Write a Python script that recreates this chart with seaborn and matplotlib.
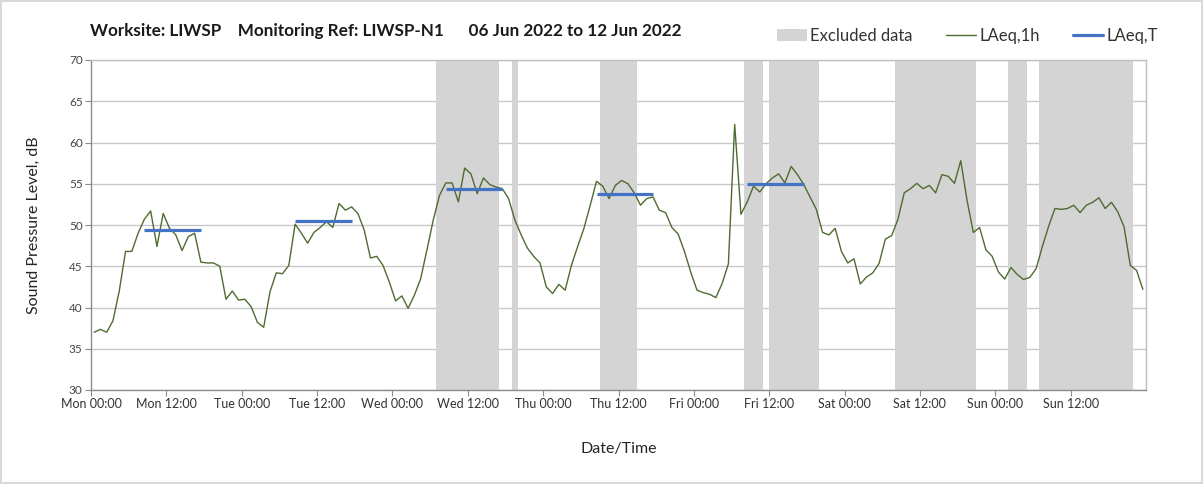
import pandas as pd
import matplotlib.pyplot as plt
import matplotlib.dates as mdates
from matplotlib.patches import Patch
from matplotlib.lines import Line2D
import seaborn as sns

# hourly LAeq,1h values, one list per day (00:00 .. 23:00)
mon = [37.0, 37.35, 37.0, 38.4, 42.0, 46.8, 46.8, 49.0, 50.7, 51.7, 47.4, 51.4,
       49.6, 48.8, 46.9, 48.6, 49.0, 45.5, 45.4, 45.4, 45.0, 41.0, 42.0, 40.9]
tue = [41.0, 40.1, 38.2, 37.6, 41.9, 44.2, 44.1, 45.1, 50.1, 49.0, 47.8, 49.1,
       49.7, 50.4, 49.7, 52.6, 51.8, 52.2, 51.4, 49.4, 46.0, 46.2, 45.1, 43.1]
wed = [40.8, 41.4, 39.9, 41.5, 43.5, 47.0, 50.6, 53.6, 55.1, 55.1, 52.8, 56.9,
       56.2, 53.8, 55.7, 54.9, 54.6, 54.4, 53.2, 50.6, 48.8, 47.2, 46.2, 45.4]
thu = [42.5, 41.7, 42.8, 42.1, 45.1, 47.4, 49.6, 52.4, 55.3, 54.7, 53.2, 54.8,
       55.4, 55.0, 53.9, 52.4, 53.2, 53.4, 51.8, 51.5, 49.7, 48.9, 46.8, 44.3]
fri = [42.1, 41.8, 41.6, 41.2, 42.9, 45.3, 62.2, 51.3, 52.8, 54.7, 54.0, 55.0,
       55.7, 56.2, 55.1, 57.1, 56.1, 54.9, 53.4, 51.9, 49.1, 48.8, 49.6, 46.8]
sat = [45.4, 45.9, 42.85, 43.7, 44.2, 45.35, 48.3, 48.7, 50.7, 53.9, 54.4, 55.05,
       54.4, 54.8, 53.9, 56.1, 55.9, 55.05, 57.8, 53.0, 49.1, 49.7, 47.0, 46.2]
sun = [44.3, 43.45, 44.85, 44.0, 43.4, 43.65, 44.7, 47.4, 49.85, 52.0, 51.9, 52.0,
       52.4, 51.5, 52.4, 52.75, 53.3, 52.0, 52.75, 51.6, 49.8, 45.1, 44.5, 42.2]

# LAeq,T over the 08:00-18:00 period (weekdays only)
laeq_t_days = ['2022-06-06', '2022-06-07', '2022-06-08', '2022-06-09', '2022-06-10']
laeq_t_vals = [49.4, 50.5, 54.4, 53.7, 55.0]

# excluded periods
excl_start = ['2022-06-08 07:00', '2022-06-08 19:00', '2022-06-09 09:00', '2022-06-10 08:00',
              '2022-06-10 12:00', '2022-06-11 08:00', '2022-06-12 02:00', '2022-06-12 07:00']
excl_end = ['2022-06-08 17:00', '2022-06-08 20:00', '2022-06-09 15:00', '2022-06-10 11:00',
            '2022-06-10 20:00', '2022-06-11 21:00', '2022-06-12 05:00', '2022-06-12 22:00']

values = mon + tue + wed + thu + fri + sat + sun
times = pd.date_range('2022-06-06 00:30', periods=len(values), freq='h')
df = pd.DataFrame({'time': times, 'LAeq': values})

green = '#4f6b30'
blue = '#4472c4'
shade = '#d4d4d4'

sns.set_style('white')
plt.rcParams['font.family'] = ['Lato', 'DejaVu Sans']

fig = plt.figure(figsize=(12.03, 4.84), dpi=100)
fig.patch.set_edgecolor('#d9d9d9')
fig.patch.set_linewidth(1.5)
ax = fig.add_axes([91/1203, 1-390/484, 1055/1203, 330/484])

for s, e in zip(excl_start, excl_end):
    ax.axvspan(pd.Timestamp(s), pd.Timestamp(e), color=shade, lw=0, zorder=1)

sns.lineplot(data=df, x='time', y='LAeq', ax=ax, color=green, lw=1.0, zorder=3)

for d, v in zip(laeq_t_days, laeq_t_vals):
    day = pd.Timestamp(d)
    ax.hlines(v, day + pd.Timedelta(hours=8.5), day + pd.Timedelta(hours=17.5),
              color=blue, lw=2.3, zorder=4)

ax.set_xlim(pd.Timestamp('2022-06-06'), pd.Timestamp('2022-06-13'))
ax.set_ylim(30, 70)
ax.set_yticks(range(30, 71, 5))
ax.xaxis.set_major_locator(mdates.HourLocator(byhour=[0, 12]))
ax.xaxis.set_major_formatter(mdates.DateFormatter('%a %H:%M'))
ax.xaxis.set_minor_locator(mdates.DayLocator())
ax.set_xticks([t for t in ax.get_xticks() if t < mdates.date2num(pd.Timestamp('2022-06-12 23:00'))])

ax.grid(False)
ax.grid(axis='y', color='#c8c8c8', lw=1.0, zorder=0)
ax.grid(axis='x', which='minor', color='#e3e3e3', lw=1.0, zorder=0)
ax.tick_params(axis='x', which='minor', length=0)
ax.tick_params(axis='x', which='major', labelsize=9, labelcolor='#333333')
ax.tick_params(axis='y', which='major', labelsize=8.5, labelcolor='#444444')
ax.tick_params(axis='both', which='major', length=4, width=0.8, color='#8c8c8c',
               pad=2, bottom=True, left=True)
for side in ['top', 'right']:
    ax.spines[side].set_color('#bfbfbf')
for side in ['left', 'bottom']:
    ax.spines[side].set_color('#8c8c8c')
for sp in ax.spines.values():
    sp.set_linewidth(1.0)

ax.set_xlabel('Date/Time', fontsize=11.5, color='#262626', labelpad=23)
ax.set_ylabel('Sound Pressure Level, dB', fontsize=11.5, color='#262626', labelpad=20)

fig.text(90/1203, 1-31/484, 'Worksite: LIWSP    Monitoring Ref: LIWSP-N1      06 Jun 2022 to 12 Jun 2022',
         fontsize=12.3, fontweight='bold', color='#1a1a1a', va='center', ha='left')

handles = [Patch(facecolor=shade, edgecolor='none'),
           Line2D([], [], color=green, lw=1.0),
           Line2D([], [], color=blue, lw=2.3)]
fig.legend(handles, ['Excluded data', 'LAeq,1h', 'LAeq,T'], loc='center left',
           bbox_to_anchor=(762/1203, 1-36/484), ncol=3, frameon=False, fontsize=12,
           handlelength=1.8, handletextpad=0.2, columnspacing=2.0, labelcolor='#333333')

fig.savefig('out.png', dpi=100, edgecolor=fig.get_edgecolor())
